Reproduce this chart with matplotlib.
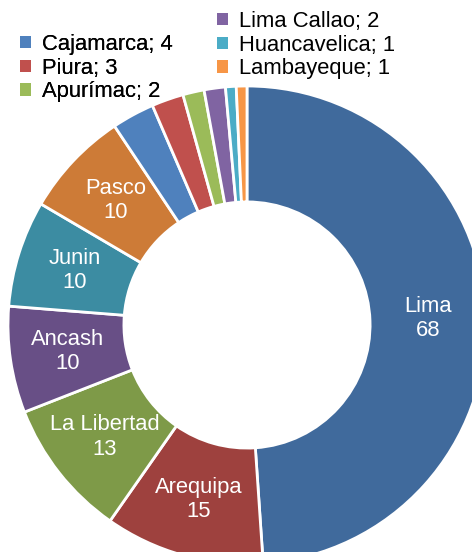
import matplotlib
matplotlib.use("Agg")
import matplotlib.pyplot as plt
import numpy as np

regions = ["Lima", "Arequipa", "La Libertad", "Ancash", "Junin", "Pasco",
           "Cajamarca", "Piura", "Apurímac", "Lima Callao", "Huancavelica", "Lambayeque"]
values = [68, 15, 13, 10, 10, 10, 4, 3, 2, 2, 1, 1]
colors = ["#406A9C", "#9E413E", "#7E9A48", "#684F86", "#3C8CA2", "#CD7B37",
          "#4F81BD", "#C0504D", "#9BBB59", "#8064A2", "#4BACC6", "#F79646"]
n_labeled = 6

plt.rcParams['font.family'] = ['Liberation Sans', 'DejaVu Sans']
W, H = 472, 552
fig = plt.figure(figsize=(W / 100, H / 100), dpi=100)

cx, cy, R = 247, 325, 239
ax = fig.add_axes([(cx - R) / W, (H - cy - R) / H, 2 * R / W, 2 * R / H])
inner = 0.515
wedges, _ = ax.pie(values, colors=colors, startangle=90, counterclock=False,
                   radius=1.0, wedgeprops=dict(width=1 - inner, edgecolor="white", linewidth=2))
ax.set_xlim(-1, 1)
ax.set_ylim(-1, 1)
ax.set_aspect("equal")
ax.axis("off")

total = sum(values)
start = 90.0
mid_r = (1 + inner) / 2
fs = 15.8
for i, (name, v) in enumerate(zip(regions, values)):
    ang = start - 360.0 * v / total / 2
    start -= 360.0 * v / total
    if i < n_labeled:
        x = mid_r * np.cos(np.radians(ang))
        y = mid_r * np.sin(np.radians(ang))
        ax.text(x, y, f"{name}\n{v}", ha="center", va="center", color="white",
                fontsize=fs, linespacing=1.2)

labels = [f"{r}; {v}" for r, v in zip(regions, values)]
leg_kw = dict(loc="upper left", frameon=False, fontsize=fs,
              handlelength=0.5, handleheight=0.5, handletextpad=0.5,
              labelspacing=0.12, borderpad=0, borderaxespad=0)
leg1 = fig.legend(wedges[6:9], labels[6:9], bbox_to_anchor=(20 / W, 1 - 34 / H), **leg_kw)
for h in leg1.legend_handles:
    h.set_linewidth(0)
leg2 = fig.legend(wedges[9:12], labels[9:12], bbox_to_anchor=(217 / W, 1 - 11 / H), **leg_kw)
for h in leg2.legend_handles:
    h.set_linewidth(0)
fig.add_artist(leg1)

fig.savefig("out.png", dpi=100)
